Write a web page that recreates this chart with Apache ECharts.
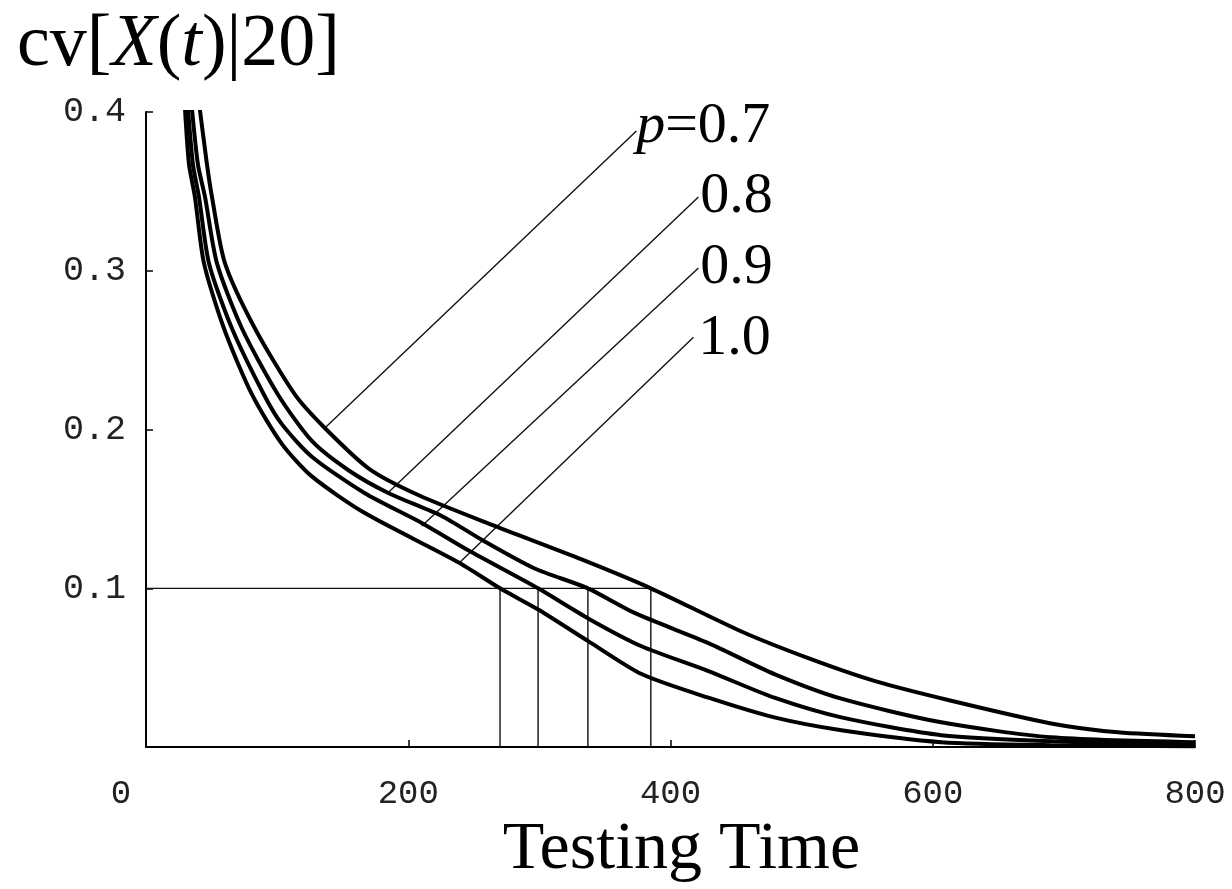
<!DOCTYPE html>
<html>
<head>
<meta charset="utf-8">
<script src="https://cdn.jsdelivr.net/npm/echarts@6/dist/echarts.min.js"></script>
<style>html,body{margin:0;padding:0;background:#fff}#c{width:1232px;height:889px}</style>
</head>
<body>
<div id="c"></div>
<script>
// ---- data ----
const xTicks = [0, 200, 400, 600, 800];
const yTicks = [0.1, 0.2, 0.3, 0.4];
const pLabels = ['p=0.7', '0.8', '0.9', '1.0'];

const curveP07 = [[41,0.402],[46.5,0.367],[50.3,0.3465],[60.2,0.3048],[83,0.2638],[113.5,0.2221],[135.6,0.2016],[169.9,0.1754],[208,0.1586],[265.9,0.1393],[332.2,0.1182],[385,0.1],[454.1,0.0728],[505.1,0.056],[555.4,0.0417],[614.1,0.0292],[690.3,0.0149],[741.3,0.0093],[800,0.0068]];
const curveP08 = [[35,0.4025],[39.6,0.367],[45,0.3465],[54.1,0.3048],[73.1,0.2638],[100.6,0.2221],[126.5,0.1928],[154.7,0.1742],[185.1,0.1599],[225.5,0.1456],[256,0.1306],[296.4,0.1125],[337,0.1],[372.6,0.0845],[428.9,0.0655],[479.2,0.046],[530.3,0.0305],[606.5,0.0156],[690.3,0.0062],[800,0.0031]];
const curveP09 = [[32,0.4025],[35.8,0.367],[40.4,0.3465],[48,0.3048],[65.5,0.2638],[89.9,0.2221],[103.6,0.2034],[126.5,0.1829],[166.9,0.1599],[210.3,0.1412],[246.1,0.1238],[299,0.1],[337.5,0.0809],[377.9,0.0635],[428.9,0.0479],[479.2,0.0311],[530.3,0.0187],[606.5,0.0075],[690.3,0.0037],[800,0.0019]];
const curveP10 = [[29.7,0.4025],[32.8,0.367],[37.3,0.3465],[44.2,0.3048],[59.4,0.2638],[80.8,0.2221],[103.6,0.191],[126.5,0.1705],[166.9,0.1474],[238.5,0.1163],[270,0.1],[299.4,0.0865],[337.5,0.0666],[377.9,0.046],[428.9,0.0311],[479.2,0.0187],[530.3,0.0106],[606.5,0.0031],[690.3,0.0012],[800,0.0006]];

// time at which each curve reaches cv = 0.1 (p = 0.7, 0.8, 0.9, 1.0)
const level = 0.1;
const crossTimes = [385, 337, 299, 270];

// leader lines: [point on curve, point near label]
const leaderP07 = [[135.6,0.2003],[374,0.388]];
const leaderP08 = [[184.4,0.160],[421.3,0.3465]];
const leaderP09 = [[210.3,0.1393],[421.3,0.3017]];
const leaderP10 = [[239.2,0.1163],[417.5,0.2582]];

// anchors of the p labels (left-middle of each label)
const labelAnchors = [[373.8,0.3905],[422.6,0.3465],[422.6,0.3020],[421.1,0.2572]];

// ---- chart ----
const chart = echarts.init(document.getElementById('c'), null, {renderer:'canvas'});
const black = '#000';
const curveStyle = {color: black, width: 4};
const thin = {color: '#111', width: 1.4};

function curve(name, data){
  return {name, type:'line', data, symbol:'none', smooth:0.25,
          lineStyle: curveStyle, clip:true, silent:true, z:3};
}
function seg(data){
  return {type:'line', data, symbol:'none', lineStyle: thin, silent:true, z:2};
}

const refSeries = [seg([[0, level],[crossTimes[0], level]])];
crossTimes.forEach(t => refSeries.push(seg([[t, level],[t, 0]])));

const labelData = pLabels.map((s,i)=>({value:[labelAnchors[i][0], labelAnchors[i][1]], name:s}));

const serifN = {fontFamily:'Liberation Serif', fontWeight:'normal', color:black};
const option = {
  backgroundColor:'#fff',
  animation:false,
  title:{
    text:'{n|cv[}{i|X}{n|(}{i|t}{n|)|20]}',
    left:12, top:4,
    textStyle:{
      fontWeight:'normal',
      rich:{
        n:Object.assign({fontSize:74}, serifN),
        i:Object.assign({fontSize:74, fontStyle:'italic'}, serifN)
      }
    }
  },
  grid:{left:146, right:37, top:112, bottom:131, containLabel:false},
  xAxis:{
    type:'value', min:xTicks[0], max:xTicks[xTicks.length-1], interval:200,
    name:'Testing Time', nameLocation:'middle', nameGap:48,
    nameTextStyle:{fontFamily:'Liberation Serif', fontSize:68, color:black, padding:[0,0,0,22]},
    axisLine:{show:true, onZero:false, lineStyle:{color:black, width:2}},
    axisTick:{show:true, inside:true, length:7, lineStyle:{color:black, width:1.5}},
    axisLabel:{
      margin:30, color:'#222',
      fontFamily:'Liberation Mono', fontSize:34,
      formatter:v => v===0 ? '{z|0}' : String(v),
      rich:{z:{fontFamily:'Liberation Mono', fontSize:34, color:'#222', padding:[0,50,0,0]}}
    },
    splitLine:{show:false}
  },
  yAxis:{
    type:'value', min:0, max:yTicks[yTicks.length-1], interval:0.1,
    axisLine:{show:true, onZero:false, lineStyle:{color:black, width:2}},
    axisTick:{show:true, inside:true, length:7, lineStyle:{color:black, width:1.5}},
    axisLabel:{
      margin:20, color:'#222', fontFamily:'Liberation Mono', fontSize:35,
      formatter:v => v===0 ? '' : v.toFixed(1)
    },
    splitLine:{show:false}
  },
  series:[
    curve('p=0.7', curveP07),
    curve('p=0.8', curveP08),
    curve('p=0.9', curveP09),
    curve('p=1.0', curveP10),
    ...refSeries,
    seg(leaderP07), seg(leaderP08), seg(leaderP09), seg(leaderP10),
    {
      type:'scatter', data:labelData, symbolSize:0, itemStyle:{color:black}, silent:true, z:5,
      label:{
        show:true, position:'right', distance:0, color:black, opacity:1,
        formatter:p => p.name.startsWith('p=') ? '{i|p}{n|=' + p.name.slice(2) + '}' : '{n|' + p.name + '}',
        rich:{
          n:Object.assign({fontSize:58}, serifN),
          i:Object.assign({fontSize:58, fontStyle:'italic'}, serifN)
        }
      }
    }
  ]
};
chart.setOption(option);
</script>
</body>
</html>
